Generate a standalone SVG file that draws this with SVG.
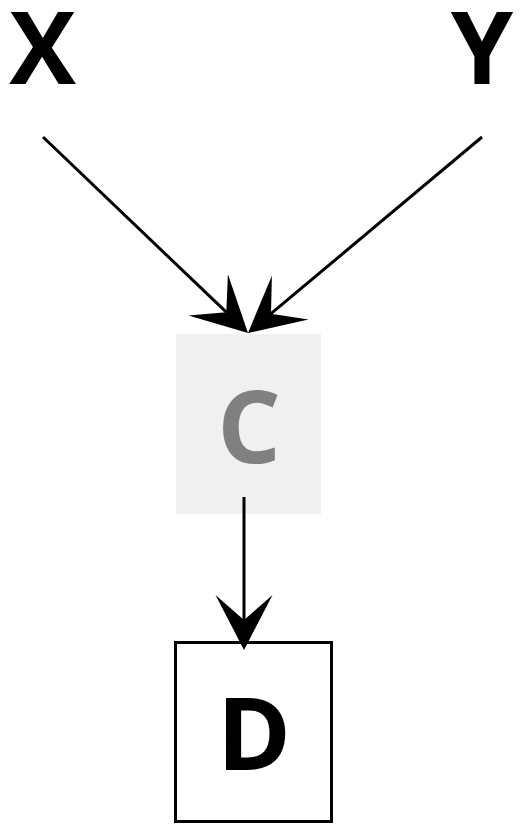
<svg xmlns="http://www.w3.org/2000/svg" width="520" height="832" viewBox="0 0 520 832">
<style>
.lbl{font-family:"Open Sans","Liberation Sans",sans-serif;font-weight:bold;font-size:100px;text-anchor:middle}
.edge{stroke:#000;stroke-width:3;fill:none}
</style>
<defs>
<marker id="ah" markerUnits="userSpaceOnUse" viewBox="-27 -30 58 60" markerWidth="58" markerHeight="60" refX="0" refY="0" orient="auto">
<path d="M30,0 L-25,-28.5 L0,0 L-25,28.5 Z" fill="#000"/>
</marker>
</defs>
<rect width="520" height="832" fill="#fff"/>
<g id="X"><text class="lbl" x="42.5" y="84">X</text></g>
<g id="Y"><text class="lbl" x="482" y="84">Y</text></g>
<g id="C"><rect x="176" y="334" width="145" height="180" fill="#f0f0f0"/><text class="lbl" x="249" y="463" fill="#808080">C</text></g>
<g id="D"><rect x="175.5" y="642.5" width="156" height="179" fill="#fff" stroke="#000" stroke-width="3"/><text class="lbl" x="254" y="770">D</text></g>
<g id="edges">
<line class="edge" x1="43" y1="137" x2="226.3" y2="312.2" marker-end="url(#ah)"/>
<line class="edge" x1="482" y1="137" x2="271" y2="313.7" marker-end="url(#ah)"/>
<line class="edge" x1="244" y1="497" x2="244" y2="620" marker-end="url(#ah)"/>
</g>
</svg>
